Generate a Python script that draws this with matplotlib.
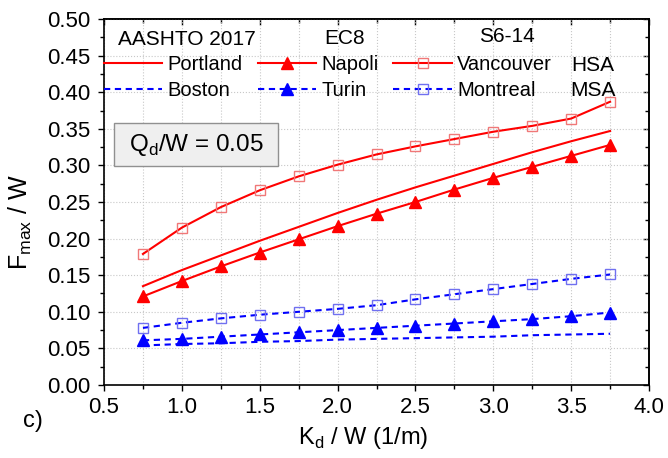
import matplotlib.pyplot as plt
import matplotlib.patches as mpatches
import numpy as np

plt.rcParams['font.family'] = ['Liberation Sans', 'DejaVu Sans']
plt.rcParams['mathtext.fontset'] = 'custom'
plt.rcParams['mathtext.rm'] = 'Liberation Sans'

# Kd/W values (1/m)
kd = [0.75, 1.0, 1.25, 1.5, 1.75, 2.0, 2.25, 2.5, 2.75, 3.0, 3.25, 3.5, 3.75]

# HSA sites
portland = [0.135, 0.157, 0.177, 0.197, 0.216, 0.235, 0.253, 0.270, 0.286, 0.302, 0.318, 0.333, 0.347]
napoli = [0.121, 0.142, 0.162, 0.181, 0.199, 0.217, 0.234, 0.250, 0.267, 0.283, 0.298, 0.313, 0.328]
vancouver = [0.179, 0.215, 0.243, 0.266, 0.285, 0.301, 0.315, 0.326, 0.336, 0.346, 0.354, 0.364, 0.387]

# MSA sites
boston = [0.054, 0.056, 0.057, 0.059, 0.060, 0.062, 0.063, 0.064, 0.065, 0.066, 0.068, 0.069, 0.070]
turin = [0.061, 0.063, 0.066, 0.069, 0.072, 0.075, 0.078, 0.081, 0.084, 0.087, 0.090, 0.094, 0.099]
montreal = [0.078, 0.085, 0.091, 0.096, 0.100, 0.104, 0.109, 0.117, 0.124, 0.131, 0.138, 0.145, 0.151]

red = '#ff0000'
blue = '#0000ff'
dash = (3, 2.2)
fs = 15

fig = plt.figure(figsize=(6.68, 4.58), dpi=100)
ax = fig.add_axes([0.1557, 0.1594, 0.8159, 0.7991])

ax.plot(kd, portland, '-', color=red, lw=1.5, label='Portland')
ax.plot(kd, boston, '--', color=blue, lw=1.5, dashes=dash, label='Boston')
ax.plot(kd, napoli, '-', color=red, lw=1.5, marker='^', ms=8.5, label='Napoli')
ax.plot(kd, turin, '--', color=blue, lw=1.5, dashes=dash, marker='^', ms=8.5, label='Turin')
ax.plot(kd, vancouver, '-', color=red, lw=1.5, marker='s', ms=6.5, mfc='none',
        mec='#f07878', mew=1.0, label='Vancouver')
ax.plot(kd, montreal, '--', color=blue, lw=1.5, dashes=dash, marker='s', ms=6.5, mfc='none',
        mec='#7070f0', mew=1.0, label='Montreal')

ax.set_xlim(0.5, 4.0)
ax.set_ylim(0.0, 0.5)
ax.set_xticks(np.arange(0.5, 4.01, 0.5))
ax.set_yticks(np.arange(0, 0.501, 0.05))
ax.set_xticks(np.arange(0.75, 4.0, 0.5), minor=True)
ax.set_yticks(np.arange(0.025, 0.5, 0.05), minor=True)
ax.xaxis.set_major_formatter(plt.FormatStrFormatter('%.1f'))
ax.yaxis.set_major_formatter(plt.FormatStrFormatter('%.2f'))
ax.tick_params(which='both', direction='out', labelsize=16, width=1)
ax.tick_params(which='major', length=4.5)
ax.tick_params(which='minor', length=3)
ax.tick_params(axis='x', pad=4)
ax.tick_params(axis='y', pad=5.5)

# inward ticks on top and right
top = ax.secondary_xaxis('top')
top.set_xticks(np.arange(0.5, 4.01, 0.5))
top.set_xticks(np.arange(0.75, 4.0, 0.5), minor=True)
top.tick_params(which='both', direction='in', labeltop=False, width=1)
top.tick_params(which='major', length=4.5)
top.tick_params(which='minor', length=3)
right = ax.secondary_yaxis('right')
right.set_yticks(np.arange(0, 0.501, 0.05))
right.set_yticks(np.arange(0.025, 0.5, 0.05), minor=True)
right.tick_params(which='both', direction='in', labelright=False, width=1)
right.tick_params(which='major', length=4.5)
right.tick_params(which='minor', length=3)

ax.grid(True, which='major', ls=':', color='#c8c8c8', lw=0.8)
ax.grid(True, which='minor', axis='x', ls=':', color='#c8c8c8', lw=0.8)
for s in ax.spines.values():
    s.set_linewidth(1.2)
top.spines['top'].set_linewidth(1.2)
right.spines['right'].set_linewidth(1.2)

ax.set_xlabel('K$_\\mathregular{d}$ / W (1/m)', fontsize=17)
ax.set_ylabel('F$_\\mathregular{max}$ / W', fontsize=18)
ax.xaxis.set_label_coords(0.475, -0.11)
ax.yaxis.set_label_coords(-0.128, 0.445)

leg = ax.legend(ncol=3, loc='upper left', bbox_to_anchor=(0.0, 0.902),
                frameon=False, fontsize=14.5, handlelength=2.9,
                columnspacing=0.75, handletextpad=0.25, labelspacing=0.35,
                borderaxespad=0, borderpad=0)

ax.text(0.152, 0.945, 'AASHTO 2017', transform=ax.transAxes, fontsize=fs,
        ha='center', va='center')
ax.text(0.442, 0.948, 'EC8', transform=ax.transAxes, fontsize=fs,
        ha='center', va='center')
ax.text(0.740, 0.951, 'S6-14', transform=ax.transAxes, fontsize=fs,
        ha='center', va='center')
ax.text(0.897, 0.872, 'HSA', transform=ax.transAxes, fontsize=fs,
        ha='center', va='center')
ax.text(0.898, 0.806, 'MSA', transform=ax.transAxes, fontsize=fs,
        ha='center', va='center')

# Qd/W annotation box
ax.add_patch(mpatches.Rectangle((0.018, 0.598), 0.301, 0.118, transform=ax.transAxes,
                                fc='#efefef', ec='#909090', lw=1, zorder=3))
ax.text(0.169, 0.655, 'Q$_\\mathregular{d}$/W = 0.05', transform=ax.transAxes,
        fontsize=17.5, ha='center', va='center', zorder=4)

fig.text(0.05, 0.08, 'c)', fontsize=17, ha='center', va='center')

fig.savefig('out.png', dpi=100)
